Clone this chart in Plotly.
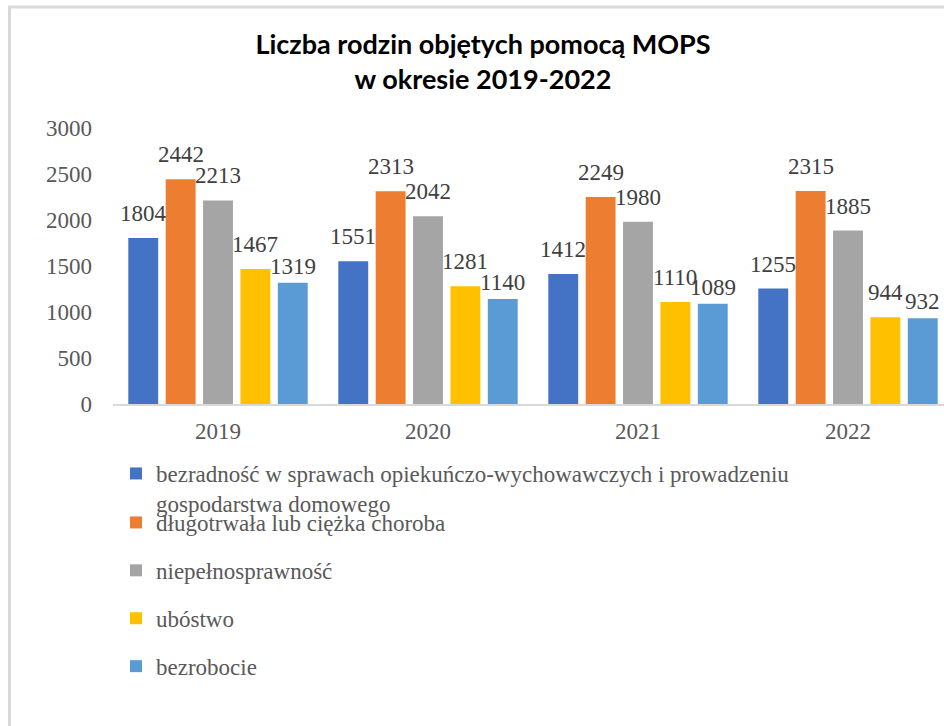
import plotly.graph_objects as go

years = ["2019", "2020", "2021", "2022"]
bezradnosc = [1804, 1551, 1412, 1255]
choroba = [2442, 2313, 2249, 2315]
niepelnosprawnosc = [2213, 2042, 1980, 1885]
ubostwo = [1467, 1281, 1110, 944]
bezrobocie = [1319, 1140, 1089, 932]

names = [
    "bezradność w sprawach opiekuńczo-wychowawczych i prowadzeniu<br>gospodarstwa domowego",
    "długotrwała lub ciężka choroba",
    "niepełnosprawność",
    "ubóstwo",
    "bezrobocie",
]
series = [bezradnosc, choroba, niepelnosprawnosc, ubostwo, bezrobocie]
colors = ["#4472C4", "#ED7D31", "#A5A5A5", "#FFC000", "#5B9BD5"]

serif = "Liberation Serif, Times New Roman, serif"

W, H = 944, 726
L, R, T, B = 113, 0, 128, 322
pw = W - L - R
ph = H - T - B
cat_px = 210
bargap = 0.11
slot = cat_px * (1 - bargap) / len(series)


def px_x(p):
    return (p - L) / pw


def px_y(p):
    return (H - B - p) / ph


fig = go.Figure()
for i, (name, vals, col) in enumerate(zip(names, series, colors)):
    fig.add_trace(go.Bar(
        x=years,
        y=vals,
        name=name,
        legendgroup=str(i),
        legend="legend" if i == 0 else "legend2",
        marker=dict(color=col, line=dict(width=0)),
        hoverinfo="skip",
    ))
    # value labels above bars (x given as category index);
    # the last series sits lower, as in the original
    lift = 2 if i == len(series) - 1 else 10
    for j, v in enumerate(vals):
        fig.add_annotation(
            x=j, y=v, xref="x", yref="y", text=str(v),
            xshift=(i - 2) * slot, yshift=lift,
            yanchor="bottom", showarrow=False,
            font=dict(family=serif, size=23, color="#404040"),
        )

fig.update_layout(
    width=W,
    height=H,
    margin=dict(l=L, r=R, t=T, b=B),
    plot_bgcolor="white",
    paper_bgcolor="white",
    barmode="group",
    bargap=bargap,
    bargroupgap=0.2,
    title=dict(
        text="<b>Liczba rodzin objętych pomocą MOPS<br>w okresie 2019-2022</b>",
        x=483 / W,
        xanchor="center",
        xref="container",
        y=1 - 54 / H,
        yanchor="top",
        yref="container",
        font=dict(family="Lato, sans-serif", size=27, color="#000000"),
    ),
    xaxis=dict(
        type="category",
        range=[-0.5, -0.5 + pw / cat_px],
        showgrid=False,
        showline=True,
        linecolor="#d9d9d9",
        linewidth=2,
        ticks="",
        ticklabelstandoff=5,
        tickfont=dict(family=serif, size=23, color="#595959"),
    ),
    yaxis=dict(
        range=[0, 3000],
        dtick=500,
        showgrid=False,
        zeroline=False,
        showline=False,
        ticks="",
        ticklabelstandoff=20,
        tickfont=dict(family=serif, size=23, color="#595959"),
    ),
    legend=dict(
        x=px_x(116),
        xanchor="left",
        y=px_y(452),
        yanchor="top",
        valign="top",
        font=dict(family=serif, size=23, color="#595959"),
        bgcolor="rgba(0,0,0,0)",
    ),
    legend2=dict(
        x=px_x(116),
        xanchor="left",
        y=px_y(501),
        yanchor="top",
        font=dict(family=serif, size=23, color="#595959"),
        tracegroupgap=15,
        bgcolor="rgba(0,0,0,0)",
    ),
    showlegend=True,
)

# light frame around the chart area
fig.add_shape(
    type="rect",
    xref="paper", yref="paper",
    x0=px_x(9.5), x1=px_x(W + 20),
    y0=px_y(H + 20), y1=px_y(7),
    line=dict(color="#d9d9d9", width=3),
    fillcolor="rgba(0,0,0,0)",
    layer="below",
)

fig.write_html("out.html", config={"displayModeBar": False},
               post_script="document.body.style.margin='0';")
